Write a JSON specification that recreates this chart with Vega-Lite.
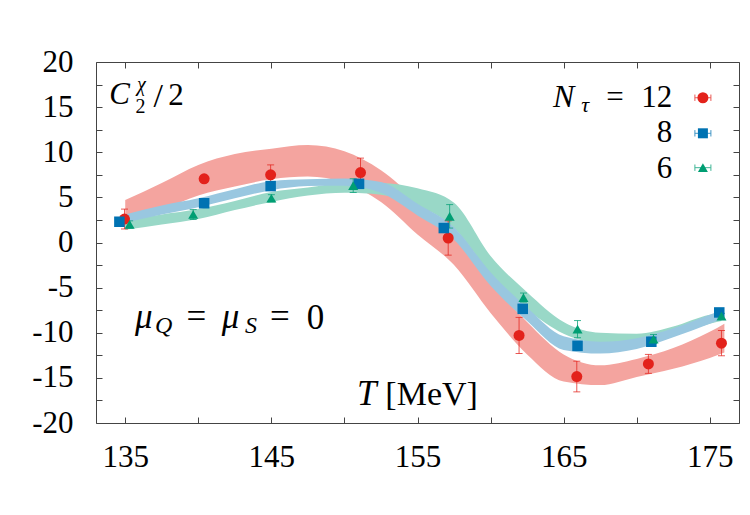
{
  "$schema": "https://vega.github.io/schema/vega-lite/v6.json",
  "width": 643,
  "height": 361,
  "autosize": {"type": "none"},
  "padding": {"left": 96, "top": 62, "right": 11, "bottom": 92},
  "background": "white",
  "config": {
    "view": {"stroke": "#444", "strokeWidth": 1},
    "axis": {"grid": false, "domain": false, "tickColor": "#444", "tickWidth": 1, "labelColor": "#000", "labelFont": "Liberation Serif", "labelFontSize": 31, "labelFlush": false, "labelOverlap": false, "tickSize": -6},
    "text": {"font": "Liberation Serif", "color": "#000", "baseline": "alphabetic"}
  },
  "datasets": {
    "pts": [
      {"N": "12", "T": 134.95, "v": 2.6, "e": 1.1},
      {"N": "12", "T": 140.4, "v": 7.05, "e": 0.3},
      {"N": "12", "T": 144.95, "v": 7.5, "e": 1.1},
      {"N": "12", "T": 151.1, "v": 7.75, "e": 1.6},
      {"N": "12", "T": 157.1, "v": 0.5, "e": 1.9},
      {"N": "12", "T": 161.95, "v": -10.3, "e": 2.0},
      {"N": "12", "T": 165.9, "v": -14.85, "e": 1.7},
      {"N": "12", "T": 170.8, "v": -13.45, "e": 1.05},
      {"N": "12", "T": 175.8, "v": -11.15, "e": 1.4},
      {"N": "8", "T": 134.6, "v": 2.3, "e": 0.3},
      {"N": "8", "T": 140.4, "v": 4.35, "e": 0.3},
      {"N": "8", "T": 144.95, "v": 6.25, "e": 0.3},
      {"N": "8", "T": 151.0, "v": 6.5, "e": 0.3},
      {"N": "8", "T": 156.8, "v": 1.6, "e": 0.3},
      {"N": "8", "T": 162.2, "v": -7.35, "e": 0.4},
      {"N": "8", "T": 165.95, "v": -11.45, "e": 0.3},
      {"N": "8", "T": 171.0, "v": -11.0, "e": 0.5},
      {"N": "8", "T": 175.65, "v": -7.75, "e": 0.3},
      {"N": "6", "T": 135.3, "v": 2.0, "e": 0.4},
      {"N": "6", "T": 139.65, "v": 3.1, "e": 0.55},
      {"N": "6", "T": 145.0, "v": 4.9, "e": 0.4},
      {"N": "6", "T": 150.6, "v": 6.3, "e": 0.75},
      {"N": "6", "T": 157.2, "v": 2.9, "e": 1.3},
      {"N": "6", "T": 162.25, "v": -6.1, "e": 0.5},
      {"N": "6", "T": 165.95, "v": -9.6, "e": 0.95},
      {"N": "6", "T": 171.15, "v": -10.7, "e": 0.5},
      {"N": "6", "T": 175.8, "v": -8.15, "e": 0.3}
    ],
    "band": [
      {"N": "12", "T": 135, "lo": 1.5, "hi": 4.7},
      {"N": "12", "T": 137.5, "lo": 3.5, "hi": 6.6},
      {"N": "12", "T": 140, "lo": 5.2, "hi": 8.6},
      {"N": "12", "T": 142.5, "lo": 6.2, "hi": 9.8},
      {"N": "12", "T": 145, "lo": 7.0, "hi": 10.4},
      {"N": "12", "T": 147.5, "lo": 7.3, "hi": 10.8},
      {"N": "12", "T": 150, "lo": 6.6, "hi": 10.1},
      {"N": "12", "T": 152.5, "lo": 4.5, "hi": 8.0},
      {"N": "12", "T": 155, "lo": 0.9, "hi": 4.6},
      {"N": "12", "T": 157.5, "lo": -2.5, "hi": 1.1},
      {"N": "12", "T": 160, "lo": -7.8, "hi": -4.4},
      {"N": "12", "T": 162.5, "lo": -12.4, "hi": -8.8},
      {"N": "12", "T": 165, "lo": -15.4, "hi": -12.4},
      {"N": "12", "T": 167.5, "lo": -15.8, "hi": -13.6},
      {"N": "12", "T": 170, "lo": -14.9, "hi": -12.9},
      {"N": "12", "T": 172.5, "lo": -14.0, "hi": -11.7},
      {"N": "12", "T": 175, "lo": -12.8, "hi": -9.9},
      {"N": "12", "T": 176, "lo": -12.2, "hi": -9.0},
      {"N": "8", "T": 135, "lo": 2.2, "hi": 3.1},
      {"N": "8", "T": 137.5, "lo": 3.1, "hi": 4.1},
      {"N": "8", "T": 140, "lo": 3.9, "hi": 4.9},
      {"N": "8", "T": 142.5, "lo": 4.9, "hi": 5.9},
      {"N": "8", "T": 145, "lo": 5.8, "hi": 6.8},
      {"N": "8", "T": 147.5, "lo": 6.25, "hi": 7.0},
      {"N": "8", "T": 150, "lo": 6.3, "hi": 7.1},
      {"N": "8", "T": 152.5, "lo": 5.5, "hi": 6.7},
      {"N": "8", "T": 155, "lo": 3.0, "hi": 4.3},
      {"N": "8", "T": 157.5, "lo": 0.3, "hi": 1.7},
      {"N": "8", "T": 160, "lo": -4.8, "hi": -3.3},
      {"N": "8", "T": 162.5, "lo": -8.7, "hi": -7.2},
      {"N": "8", "T": 165, "lo": -11.9, "hi": -10.4},
      {"N": "8", "T": 167.5, "lo": -12.3, "hi": -11.0},
      {"N": "8", "T": 170, "lo": -11.8, "hi": -10.6},
      {"N": "8", "T": 172.5, "lo": -10.5, "hi": -9.5},
      {"N": "8", "T": 175, "lo": -9.0, "hi": -8.0},
      {"N": "8", "T": 175.8, "lo": -8.5, "hi": -7.5},
      {"N": "6", "T": 135, "lo": 1.4, "hi": 2.5},
      {"N": "6", "T": 137.5, "lo": 2.0, "hi": 3.1},
      {"N": "6", "T": 140, "lo": 2.6, "hi": 3.7},
      {"N": "6", "T": 142.5, "lo": 3.6, "hi": 4.6},
      {"N": "6", "T": 145, "lo": 4.5, "hi": 5.6},
      {"N": "6", "T": 147.5, "lo": 5.2, "hi": 6.1},
      {"N": "6", "T": 150, "lo": 5.5, "hi": 6.6},
      {"N": "6", "T": 152.5, "lo": 5.3, "hi": 6.6},
      {"N": "6", "T": 155, "lo": 4.1, "hi": 6.0},
      {"N": "6", "T": 157.5, "lo": 1.6, "hi": 4.4},
      {"N": "6", "T": 160, "lo": -3.5, "hi": -1.5},
      {"N": "6", "T": 162.5, "lo": -7.4, "hi": -5.5},
      {"N": "6", "T": 165, "lo": -10.1, "hi": -8.8},
      {"N": "6", "T": 167.5, "lo": -11.1, "hi": -10.0},
      {"N": "6", "T": 170, "lo": -11.1, "hi": -10.1},
      {"N": "6", "T": 172.5, "lo": -10.3, "hi": -9.3},
      {"N": "6", "T": 175, "lo": -9.0, "hi": -8.0},
      {"N": "6", "T": 175.8, "lo": -8.7, "hi": -7.8}
    ]
  },
  "resolve": {"axis": {"x": "independent", "y": "independent"}},
  "layer": [
    {
      "data": {"name": "band"},
      "transform": [{"filter": "datum.N == '12'"}],
      "mark": {"type": "area", "interpolate": "monotone", "color": "#f4a49f", "opacity": 1},
      "encoding": {
        "x": {"field": "T", "type": "quantitative", "scale": {"domain": [133, 177], "nice": false, "zero": false},
              "axis": {"orient": "bottom", "title": null, "labelFont": "Liberation Serif", "values": [135, 140, 145, 150, 155, 160, 165, 170, 175], "labelExpr": "datum.value % 10 == 5 ? datum.label : ''", "labelPadding": 25}},
        "y": {"field": "lo", "type": "quantitative", "scale": {"domain": [-20, 20], "nice": false, "zero": false},
              "axis": {"orient": "left", "title": null, "labelFont": "Liberation Serif", "values": [-20, -17.5, -15, -12.5, -10, -7.5, -5, -2.5, 0, 2.5, 5, 7.5, 10, 12.5, 15, 17.5, 20], "labelExpr": "datum.value % 5 == 0 ? '' + datum.value : ''", "labelPadding": 29}},
        "y2": {"field": "hi"}
      }
    },
    {
      "data": {"name": "band"},
      "transform": [{"filter": "datum.N == '6'"}],
      "mark": {"type": "area", "interpolate": "monotone", "color": "#99d8c7", "opacity": 1},
      "encoding": {
        "x": {"field": "T", "type": "quantitative", "axis": null},
        "y": {"field": "lo", "type": "quantitative", "axis": null},
        "y2": {"field": "hi"}
      }
    },
    {
      "data": {"name": "band"},
      "transform": [{"filter": "datum.N == '8'"}],
      "mark": {"type": "area", "interpolate": "monotone", "color": "#99c7e0", "opacity": 1},
      "encoding": {
        "x": {"field": "T", "type": "quantitative", "axis": null},
        "y": {"field": "lo", "type": "quantitative", "axis": null},
        "y2": {"field": "hi"}
      }
    },
    {
      "data": {"name": "pts"},
      "mark": {"type": "errorbar", "ticks": {"size": 7, "thickness": 1}, "rule": {"strokeWidth": 1}, "opacity": 0.75},
      "encoding": {
        "x": {"field": "T", "type": "quantitative", "axis": null},
        "y": {"field": "v", "type": "quantitative", "axis": null},
        "yError": {"field": "e"},
        "color": {"field": "N", "type": "nominal", "scale": {"domain": ["12", "8", "6"], "range": ["#e3221b", "#0072b2", "#009e73"]}, "legend": null}
      }
    },
    {
      "data": {"name": "pts"},
      "mark": {"type": "point", "filled": true, "opacity": 1},
      "encoding": {
        "x": {"field": "T", "type": "quantitative",
              "axis": {"orient": "top", "title": null, "labels": false, "values": [135, 140, 145, 150, 155, 160, 165, 170, 175]}},
        "y": {"field": "v", "type": "quantitative",
              "axis": {"orient": "right", "title": null, "labels": false, "values": [-20, -17.5, -15, -12.5, -10, -7.5, -5, -2.5, 0, 2.5, 5, 7.5, 10, 12.5, 15, 17.5, 20]}},
        "color": {"field": "N", "type": "nominal", "legend": null},
        "shape": {"field": "N", "type": "nominal", "scale": {"domain": ["12", "8", "6"], "range": ["circle", "square", "triangle-up"]}, "legend": null},
        "size": {"field": "N", "type": "nominal", "scale": {"domain": ["12", "8", "6"], "range": [121, 100, 100]}, "legend": null}
      }
    },
    {
      "data": {"values": [{}]},
      "layer": [
        {"mark": {"type": "point", "shape": "M-1,-0.4L-1,0.4M-1,0L1,0M1,-0.4L1,0.4", "filled": false, "stroke": "#e3221b", "strokeWidth": 1, "size": 256, "opacity": 0.75},
         "encoding": {"x": {"datum": 174.53, "type": "quantitative", "axis": null}, "y": {"datum": 16.04, "type": "quantitative", "axis": null}}},
        {"mark": {"type": "point", "shape": "circle", "filled": true, "color": "#e3221b", "size": 121, "opacity": 1},
         "encoding": {"x": {"datum": 174.53, "type": "quantitative", "axis": null}, "y": {"datum": 16.04, "type": "quantitative", "axis": null}}},
        {"mark": {"type": "point", "shape": "M-1,-0.4L-1,0.4M-1,0L1,0M1,-0.4L1,0.4", "filled": false, "stroke": "#0072b2", "strokeWidth": 1, "size": 256, "opacity": 0.75},
         "encoding": {"x": {"datum": 174.53, "type": "quantitative", "axis": null}, "y": {"datum": 12.1, "type": "quantitative", "axis": null}}},
        {"mark": {"type": "point", "shape": "square", "filled": true, "color": "#0072b2", "size": 100, "opacity": 1},
         "encoding": {"x": {"datum": 174.53, "type": "quantitative", "axis": null}, "y": {"datum": 12.1, "type": "quantitative", "axis": null}}},
        {"mark": {"type": "point", "shape": "M-1,-0.4L-1,0.4M-1,0L1,0M1,-0.4L1,0.4", "filled": false, "stroke": "#009e73", "strokeWidth": 1, "size": 256, "opacity": 0.75},
         "encoding": {"x": {"datum": 174.53, "type": "quantitative", "axis": null}, "y": {"datum": 8.29, "type": "quantitative", "axis": null}}},
        {"mark": {"type": "point", "shape": "triangle-up", "filled": true, "color": "#009e73", "size": 100, "opacity": 1},
         "encoding": {"x": {"datum": 174.53, "type": "quantitative", "axis": null}, "y": {"datum": 8.29, "type": "quantitative", "axis": null}}},
        {"mark": {"type": "text", "font": "Liberation Serif", "text": "N", "fontStyle": "italic", "fontSize": 32, "align": "left"},
         "encoding": {"x": {"datum": 164.28, "type": "quantitative", "axis": null}, "y": {"datum": 15.05, "type": "quantitative", "axis": null}}},
        {"mark": {"type": "text", "font": "Liberation Serif", "text": "τ", "fontStyle": "italic", "fontSize": 22, "align": "left"},
         "encoding": {"x": {"datum": 166.2, "type": "quantitative", "axis": null}, "y": {"datum": 14.49, "type": "quantitative", "axis": null}}},
        {"mark": {"type": "text", "font": "Liberation Serif", "text": "=", "fontSize": 31, "align": "center"},
         "encoding": {"x": {"datum": 168.52, "type": "quantitative", "axis": null}, "y": {"datum": 15.05, "type": "quantitative", "axis": null}}},
        {"mark": {"type": "text", "font": "Liberation Serif", "text": "12", "fontSize": 31, "align": "right"},
         "encoding": {"x": {"datum": 172.43, "type": "quantitative", "axis": null}, "y": {"datum": 15.05, "type": "quantitative", "axis": null}}},
        {"mark": {"type": "text", "font": "Liberation Serif", "text": "8", "fontSize": 31, "align": "right"},
         "encoding": {"x": {"datum": 172.43, "type": "quantitative", "axis": null}, "y": {"datum": 11.17, "type": "quantitative", "axis": null}}},
        {"mark": {"type": "text", "font": "Liberation Serif", "text": "6", "fontSize": 31, "align": "right"},
         "encoding": {"x": {"datum": 172.43, "type": "quantitative", "axis": null}, "y": {"datum": 7.18, "type": "quantitative", "axis": null}}},
        {"mark": {"type": "text", "font": "Liberation Serif", "text": "C", "fontStyle": "italic", "fontSize": 31, "align": "left"},
         "encoding": {"x": {"datum": 133.9, "type": "quantitative", "axis": null}, "y": {"datum": 15.3, "type": "quantitative", "axis": null}}},
        {"mark": {"type": "text", "font": "Liberation Serif", "text": "χ", "fontStyle": "italic", "fontSize": 20, "align": "left"},
         "encoding": {"x": {"datum": 135.8, "type": "quantitative", "axis": null}, "y": {"datum": 16.75, "type": "quantitative", "axis": null}}},
        {"mark": {"type": "text", "font": "Liberation Serif", "text": "2", "fontSize": 20, "align": "left"},
         "encoding": {"x": {"datum": 135.7, "type": "quantitative", "axis": null}, "y": {"datum": 14.4, "type": "quantitative", "axis": null}}},
        {"mark": {"type": "text", "font": "Liberation Serif", "text": "/", "fontSize": 34, "align": "center"},
         "encoding": {"x": {"datum": 137.25, "type": "quantitative", "axis": null}, "y": {"datum": 15.0, "type": "quantitative", "axis": null}}},
        {"mark": {"type": "text", "font": "Liberation Serif", "text": "2", "fontSize": 31, "align": "left"},
         "encoding": {"x": {"datum": 137.95, "type": "quantitative", "axis": null}, "y": {"datum": 15.29, "type": "quantitative", "axis": null}}},
        {"mark": {"type": "text", "font": "Liberation Serif", "text": "μ", "fontStyle": "italic", "fontSize": 35, "align": "left"},
         "encoding": {"x": {"datum": 135.67, "type": "quantitative", "axis": null}, "y": {"datum": -9.47, "type": "quantitative", "axis": null}}},
        {"mark": {"type": "text", "font": "Liberation Serif", "text": "Q", "fontStyle": "italic", "fontSize": 24, "align": "left"},
         "encoding": {"x": {"datum": 137.04, "type": "quantitative", "axis": null}, "y": {"datum": -10.03, "type": "quantitative", "axis": null}}},
        {"mark": {"type": "text", "font": "Liberation Serif", "text": "=", "fontSize": 35, "align": "center"},
         "encoding": {"x": {"datum": 139.87, "type": "quantitative", "axis": null}, "y": {"datum": -9.47, "type": "quantitative", "axis": null}}},
        {"mark": {"type": "text", "font": "Liberation Serif", "text": "μ", "fontStyle": "italic", "fontSize": 35, "align": "left"},
         "encoding": {"x": {"datum": 141.6, "type": "quantitative", "axis": null}, "y": {"datum": -9.47, "type": "quantitative", "axis": null}}},
        {"mark": {"type": "text", "font": "Liberation Serif", "text": "S", "fontStyle": "italic", "fontSize": 24, "align": "left"},
         "encoding": {"x": {"datum": 143.2, "type": "quantitative", "axis": null}, "y": {"datum": -10.03, "type": "quantitative", "axis": null}}},
        {"mark": {"type": "text", "font": "Liberation Serif", "text": "=", "fontSize": 35, "align": "center"},
         "encoding": {"x": {"datum": 145.59, "type": "quantitative", "axis": null}, "y": {"datum": -9.47, "type": "quantitative", "axis": null}}},
        {"mark": {"type": "text", "font": "Liberation Serif", "text": "0", "fontSize": 35, "align": "left"},
         "encoding": {"x": {"datum": 147.42, "type": "quantitative", "axis": null}, "y": {"datum": -9.58, "type": "quantitative", "axis": null}}},
        {"mark": {"type": "text", "font": "Liberation Serif", "text": "T", "fontStyle": "italic", "fontSize": 35, "align": "left"},
         "encoding": {"x": {"datum": 150.86, "type": "quantitative", "axis": null}, "y": {"datum": -18.0, "type": "quantitative", "axis": null}}},
        {"mark": {"type": "text", "font": "Liberation Serif", "text": "[MeV]", "fontSize": 34, "align": "left"},
         "encoding": {"x": {"datum": 152.8, "type": "quantitative", "axis": null}, "y": {"datum": -18.0, "type": "quantitative", "axis": null}}}
      ]
    }
  ]
}
